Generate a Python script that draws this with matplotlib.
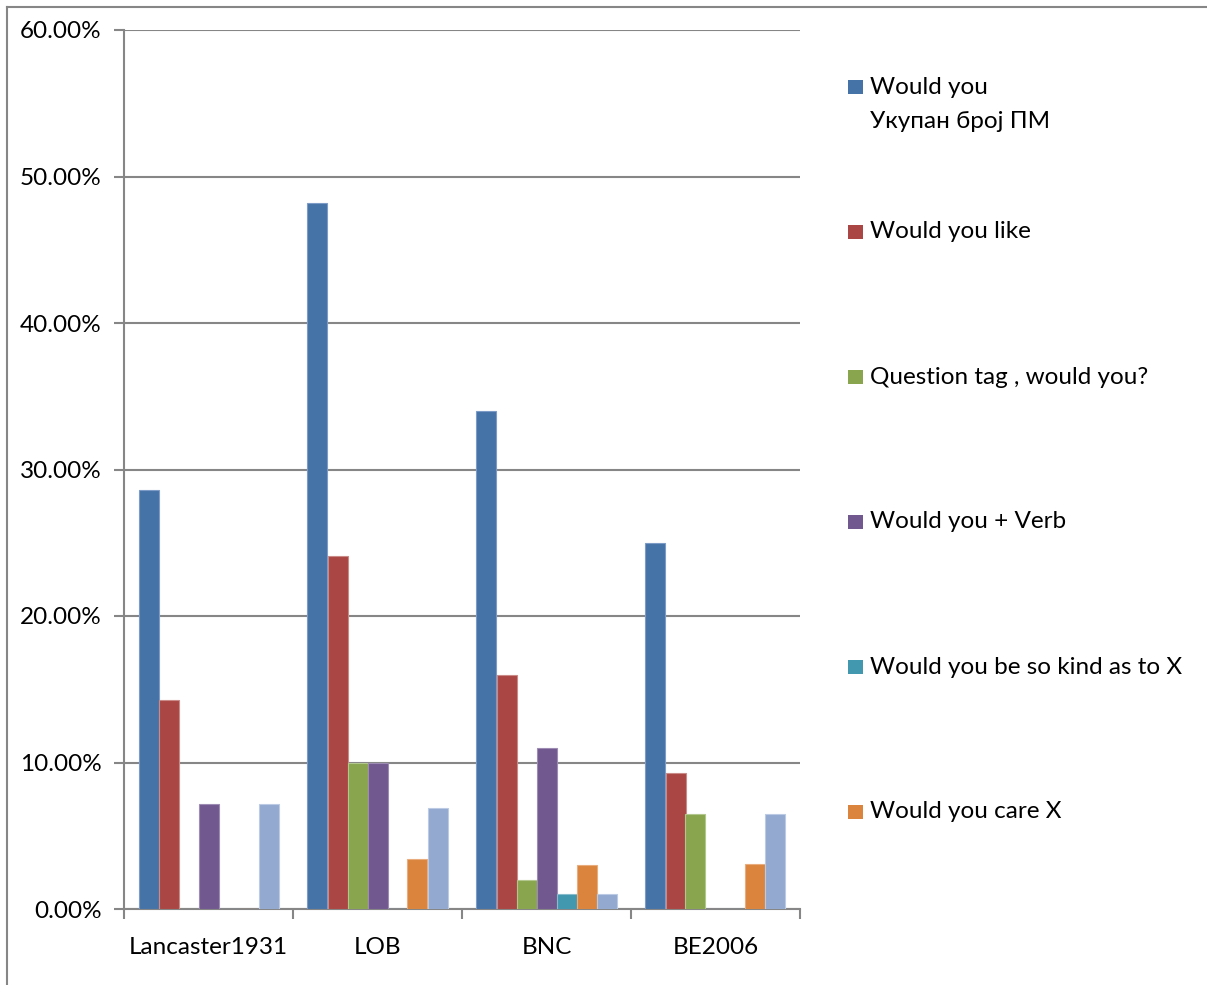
import matplotlib
matplotlib.use("Agg")
import matplotlib.pyplot as plt
from matplotlib.patches import Rectangle
from matplotlib.lines import Line2D
from matplotlib.ticker import FuncFormatter, FixedLocator
import numpy as np

plt.rcParams['font.family'] = ['Lato', 'DejaVu Sans']

categories = ["Lancaster1931", "LOB", "BNC", "BE2006"]

would_you_total = [28.57, 48.2, 34.0, 25.0]
would_you_like = [14.29, 24.1, 16.0, 9.3]
question_tag = [0.0, 10.0, 2.0, 6.5]
would_you_verb = [7.14, 10.0, 11.0, 0.0]
would_you_be_so_kind = [0.0, 0.0, 1.0, 0.0]
would_you_care = [0.0, 3.4, 3.0, 3.1]
would_you_other = [7.14, 6.9, 1.0, 6.5]

series = [would_you_total, would_you_like, question_tag, would_you_verb,
          would_you_be_so_kind, would_you_care, would_you_other]
colors = ["#4572A7", "#AA4643", "#89A54E", "#71588F", "#4198AF", "#DB843D", "#93A9CF"]
edges = ["#7C9BC6", "#C98A88", "#B2C78E", "#9D8BB3", "#86BCCB", "#E9AC7C", "#BCCBE3"]

legend_labels = ["Would you\nУкупан број ПМ", "Would you like", "Question tag , would you?",
                 "Would you + Verb", "Would you be so kind as to X", "Would you care X"]

y_ticks = [0, 10, 20, 30, 40, 50, 60]

W, H = 1207, 985
FS = 17.5
fig = plt.figure(figsize=(W / 100, H / 100), dpi=100)
ax = fig.add_axes([124 / W, (H - 909) / H, (800 - 124) / W, (909 - 30) / H])

grid_c = "#868686"
n = len(series)
bw = 20 / 169
x = np.arange(len(categories)) + 0.5
for j, (vals, c, e) in enumerate(zip(series, colors, edges)):
    ax.bar(x + (j - (n - 1) / 2) * bw, vals, width=bw, color=c,
           edgecolor=e, linewidth=0.8, zorder=3)

ax.set_xlim(0, len(categories))
ax.set_ylim(0, 60)
ax.set_yticks(y_ticks)
ax.yaxis.set_major_formatter(FuncFormatter(lambda v, p: f"{v:.2f}%"))
ax.grid(axis='y', color=grid_c, linewidth=1.5, zorder=0)

ax.xaxis.set_major_locator(FixedLocator(x))
ax.set_xticklabels(categories)
ax.xaxis.set_minor_locator(FixedLocator(np.arange(len(categories) + 1)))
ax.tick_params(axis='x', which='major', length=0, pad=20, labelsize=FS)
ax.tick_params(axis='x', which='minor', length=7, width=1.5, color=grid_c, direction='out')
ax.tick_params(axis='y', length=7, width=1.5, color=grid_c, direction='out', pad=9, labelsize=FS)

for s in ("top", "right"):
    ax.spines[s].set_visible(False)
for s in ("left", "bottom"):
    ax.spines[s].set_color(grid_c)
    ax.spines[s].set_linewidth(1.5)

# legend drawn as swatches and text on the right
y0, step = 87, 145
for k, lab in enumerate(legend_labels):
    yc = y0 + k * step
    fig.patches.append(Rectangle((848 / W, (H - yc - 7) / H), 15 / W, 14 / H,
                                 transform=fig.transFigure, facecolor=colors[k],
                                 edgecolor='none'))
    for li, t in enumerate(lab.split("\n")):
        fig.text(870 / W, (H - yc - li * 34) / H, t, fontsize=FS,
                 va='center', ha='left', color='black')

# chart area frame
fig.add_artist(Line2D([7 / W, 7 / W], [0, (H - 7) / H], color=grid_c, linewidth=1.5,
                      transform=fig.transFigure))
fig.add_artist(Line2D([7 / W, 1], [(H - 7) / H, (H - 7) / H], color=grid_c, linewidth=1.5,
                      transform=fig.transFigure))

fig.savefig("out.png", dpi=100)
